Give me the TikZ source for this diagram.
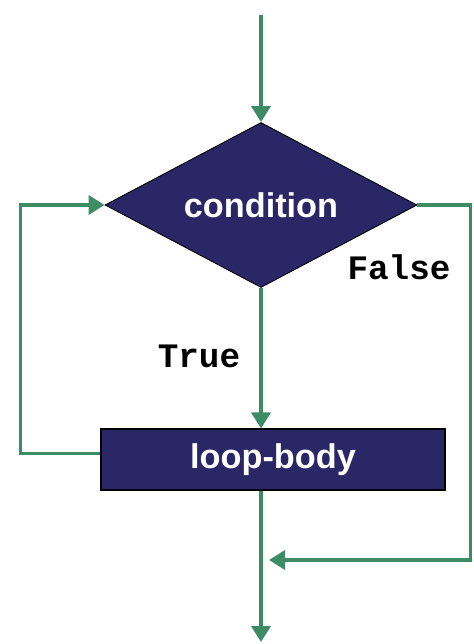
\documentclass[tikz,border=0pt]{standalone}
\usepackage{fontspec}
\setmainfont{Liberation Sans}
\setmonofont{Liberation Mono}
\usepackage{tikz}
\usetikzlibrary{shapes.geometric, arrows.meta}

\definecolor{boxblue}{RGB}{43,39,102}
\definecolor{flowgreen}{RGB}{62,140,100}

\begin{document}
\begin{tikzpicture}[
    decision/.style={diamond, aspect=1.89, draw=black, line width=0.5pt, fill=boxblue,
                     minimum width=6.24cm, minimum height=3.30cm, inner sep=0pt,
                     text=white, font=\fontsize{19.5}{23}\selectfont\bfseries},
    block/.style={draw=black, line width=0.6pt, fill=boxblue,
                  minimum width=6.88cm, minimum height=1.22cm,
                  text=white, font=\fontsize{19.5}{23}\selectfont\bfseries},
    flow/.style={-{Triangle[length=0.32cm, width=0.38cm]}, flowgreen,
                 line width=2.1pt},
    branch/.style={font=\fontsize{19.5}{23}\selectfont\ttfamily\bfseries}
]
\useasboundingbox (0,0) rectangle (9.48,-12.88);

% --- decision and body ---
\node[decision] (cond) at (5.22, -4.10) {condition};
\node[block] (body) at (5.46, -9.19) {loop-body};

% free ends
\coordinate (in) at (5.22, -0.30);
\coordinate (out) at (5.22, -12.84);
\coordinate (join) at (5.22, -11.20);

% main line
\draw[flow] (in) -- (cond.north);
\draw[flow] (cond.south) -- (cond.south |- body.north);
\draw[flow] (cond.south |- body.south) -- (out);

% back to the test
\draw[flow] ([yshift=0.12cm]body.west) -- ++(-1.60, 0) |- (cond.west);

% leaving the loop
\draw[flow, shorten >=0.16cm] (cond.east) -- ++(1.06, 0) |- (join);

% branch labels
\node[branch] (t) at (3.98, -7.12) {True};
\node[branch] (f) at (7.98, -5.34) {False};

\end{tikzpicture}
\end{document}
